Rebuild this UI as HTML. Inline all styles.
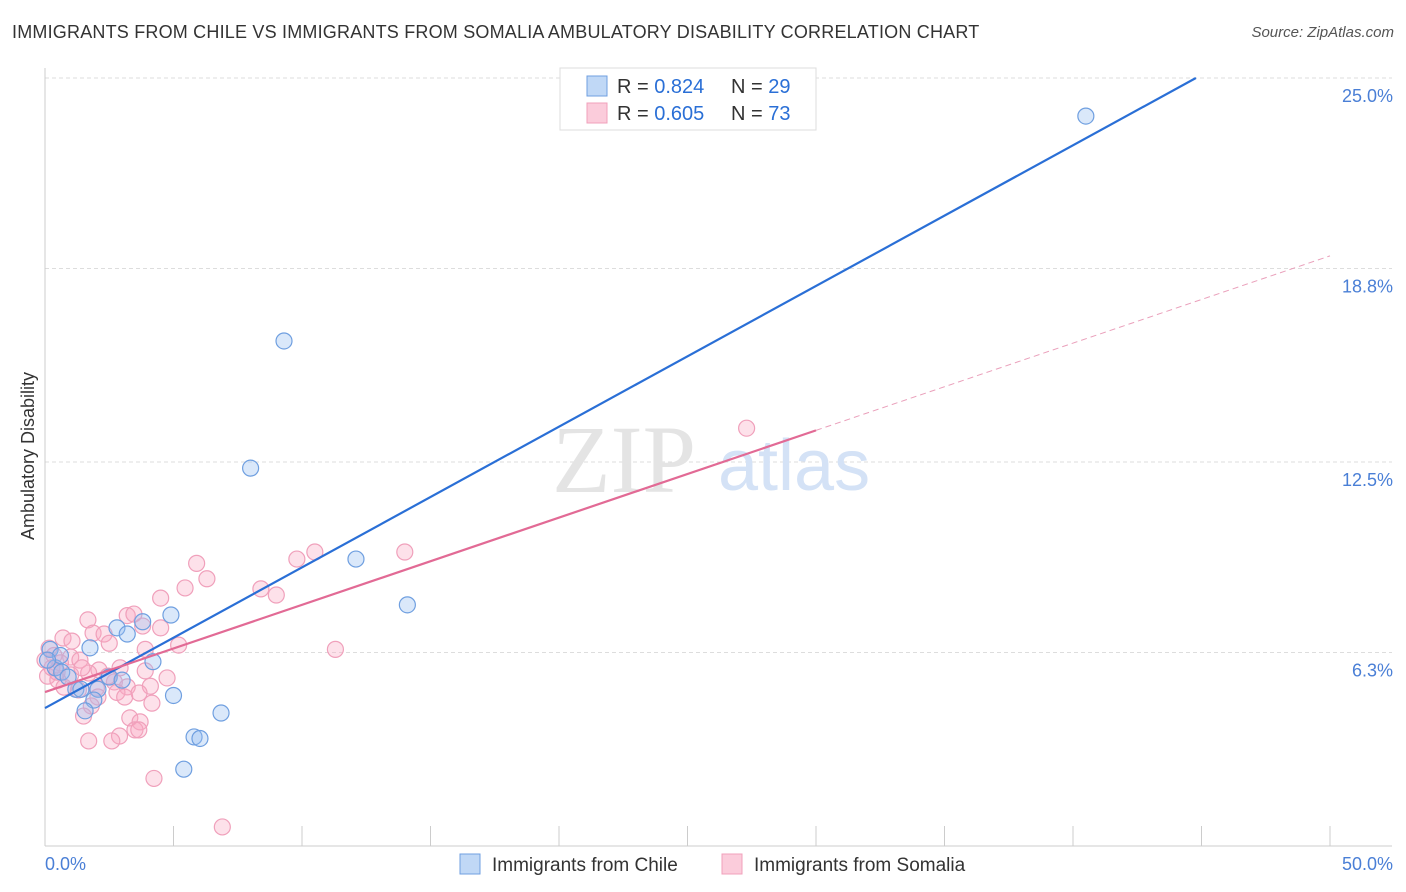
<!DOCTYPE html>
<html><head><meta charset="utf-8">
<style>
body{margin:0;background:#fff;font-family:"Liberation Sans",sans-serif;}
#wrap{position:relative;width:1406px;height:892px;overflow:hidden;}
.title{position:absolute;left:12px;top:22px;font-size:18px;color:#333;letter-spacing:0.2px;}
.source{position:absolute;right:12px;top:24px;font-size:15px;color:#555;font-style:italic;}
</style></head><body>
<div id="wrap">
<div class="title">IMMIGRANTS FROM CHILE VS IMMIGRANTS FROM SOMALIA AMBULATORY DISABILITY CORRELATION CHART</div>
<div class="source">Source: ZipAtlas.com</div>
<svg id="svg" width="1406" height="892" style="position:absolute;left:0;top:0"></svg>
</div>
<script>
const yTicks=[6.3,12.5,18.8,25.0];
const yTickLabels=["6.3%","12.5%","18.8%","25.0%"];
const xTickLabels=["0.0%","50.0%"];
const chileX=[40.5,9.3,8.0,12.1,14.1,4.9,3.8,2.8,3.2,1.75,4.2,0.2,0.4,0.65,0.9,2.5,3.0,1.2,2.06,1.9,5.0,1.56,6.85,5.8,6.03,5.4,0.6,0.1,1.4];
const chileY=[23.76,16.44,12.3,9.34,7.85,7.52,7.3,7.1,6.9,6.45,6.0,6.4,5.8,5.66,5.5,5.5,5.4,5.1,5.1,4.75,4.9,4.4,4.33,3.55,3.5,2.5,6.2,6.05,5.1];
const somaliaX=[27.3,14.0,10.5,9.8,5.9,6.3,5.45,8.4,9.0,4.5,3.2,3.46,1.67,3.8,4.5,1.87,2.3,0.7,1.05,2.5,5.2,11.3,3.9,0.16,0.35,1.0,1.36,0.6,2.1,3.9,1.7,1.0,0.1,4.75,0.5,2.7,4.1,3.2,2.0,1.3,0.74,2.8,3.66,3.1,2.06,4.16,1.8,1.5,3.3,3.7,3.5,3.65,2.9,2.6,1.7,4.24,6.9,0.0,0.27,0.47,1.44,2.45,2.92];
const somaliaY=[13.6,9.57,9.57,9.34,9.2,8.7,8.4,8.37,8.17,8.07,7.5,7.55,7.36,7.16,7.1,6.93,6.9,6.77,6.67,6.6,6.54,6.4,6.4,6.44,6.2,6.15,6.05,5.96,5.73,5.7,5.63,5.57,5.53,5.47,5.4,5.34,5.2,5.18,5.14,5.08,5.17,5.0,4.98,4.85,4.85,4.65,4.56,4.23,4.17,4.04,3.78,3.78,3.58,3.42,3.42,2.2,0.62,6.05,5.8,5.66,5.8,5.53,5.8];
const chileFit=[4.49,0.458];
const somaliaFit=[5.01,0.284];
const NS="http://www.w3.org/2000/svg";
const svg=document.getElementById('svg');
const X=v=>45+v*25.7, Y=v=>846-v*30.72;
function mk(t,a){const e=document.createElementNS(NS,t);for(const k in a)e.setAttribute(k,a[k]);svg.appendChild(e);return e;}
yTicks.forEach((t,i)=>{
 const l=mk('line',{x1:45,x2:1392,y1:Y(t),y2:Y(t),stroke:'#ddd','stroke-dasharray':'4,3'});
 
 
 const tx=mk('text',{x:1393,y:Y(t)+24,'text-anchor':'end',fill:'#4a7fd6','font-size':18});
 tx.textContent=yTickLabels[i];
 
 
});
const topGrid=mk('line',{x1:45,x2:1392,y1:78,y2:78,stroke:'#ddd','stroke-dasharray':'4,3'});


const yAxis=mk('line',{x1:45,x2:45,y1:68,y2:846,stroke:'#ccc'});


const xAxis=mk('line',{x1:45,x2:1392,y1:846,y2:846,stroke:'#ccc'});


for(let i=0;i<=10;i++){const t=mk('line',{x1:X(i*5),x2:X(i*5),y1:826,y2:846,stroke:'#ccc'});
 
 }
[[0,'start',45],[1,'end',1393]].forEach(([i,a,x])=>{const t=mk('text',{x:x,y:870,'text-anchor':a,fill:'#4a7fd6','font-size':18});t.textContent=xTickLabels[i];
 
 });
const yt=mk('text',{x:34,y:456,transform:'rotate(-90 34 456)','text-anchor':'middle',fill:'#333','font-size':18});
yt.textContent='Ambulatory Disability';


const w1=mk('text',{x:552,y:492,fill:'#e4e4e4','font-size':96,'font-family':'Liberation Serif'});w1.textContent='ZIP';


const w2=mk('text',{x:718,y:490,fill:'#d4e2f6','font-size':72});w2.textContent='atlas';


somaliaX.forEach((x,i)=>{const c=mk('circle',{cx:X(x),cy:Y(somaliaY[i]),r:8,fill:'rgba(248,170,195,0.35)',stroke:'#f0a0bb','stroke-width':1.2});
 
 });
chileX.forEach((x,i)=>{const c=mk('circle',{cx:X(x),cy:Y(chileY[i]),r:8,fill:'rgba(150,190,240,0.35)',stroke:'#6f9fe0','stroke-width':1.2});
 
 });
const cEnd=(25-chileFit[0])/chileFit[1];
const cl=mk('line',{x1:X(0),y1:Y(chileFit[0]),x2:X(cEnd),y2:Y(25),stroke:'#2a6fd6','stroke-width':2.2});


const sl=mk('line',{x1:X(0),y1:Y(somaliaFit[0]),x2:X(30),y2:Y(somaliaFit[0]+30*somaliaFit[1]),stroke:'#e26a95','stroke-width':2.2});


const sd=mk('line',{x1:X(30),y1:Y(somaliaFit[0]+30*somaliaFit[1]),x2:X(50),y2:Y(somaliaFit[0]+50*somaliaFit[1]),stroke:'#eaa0bb','stroke-width':1,'stroke-dasharray':'6,4'});


const lg=mk('rect',{x:560,y:68,width:256,height:62,fill:'#fff',stroke:'#ddd'});


[[86,'0.824','29','rgba(150,190,240,0.6)','#6f9fe0'],[113,'0.605','73','rgba(248,170,195,0.6)','#f0a0bb']].forEach(([y,r,n,f,s])=>{
 const b=mk('rect',{x:587,y:y-10,width:20,height:20,fill:f,stroke:s});
 
 
 const t=mk('text',{x:617,y:y+7,'font-size':20,fill:'#333'});
 t.innerHTML='R = <tspan fill="#2a6fd6">'+r+'</tspan><tspan x="731">N = </tspan><tspan fill="#2a6fd6">'+n+'</tspan>';
 
 
});
[[460,'Immigrants from Chile','rgba(150,190,240,0.6)','#6f9fe0'],[722,'Immigrants from Somalia','rgba(248,170,195,0.6)','#f0a0bb']].forEach(([x,l,f,s])=>{
 const b=mk('rect',{x:x,y:854,width:20,height:20,fill:f,stroke:s});
 
 
 const t=mk('text',{x:x+32,y:871,'font-size':19,fill:'#333'});t.textContent=l;
 
 
});
</script>
</body></html>
